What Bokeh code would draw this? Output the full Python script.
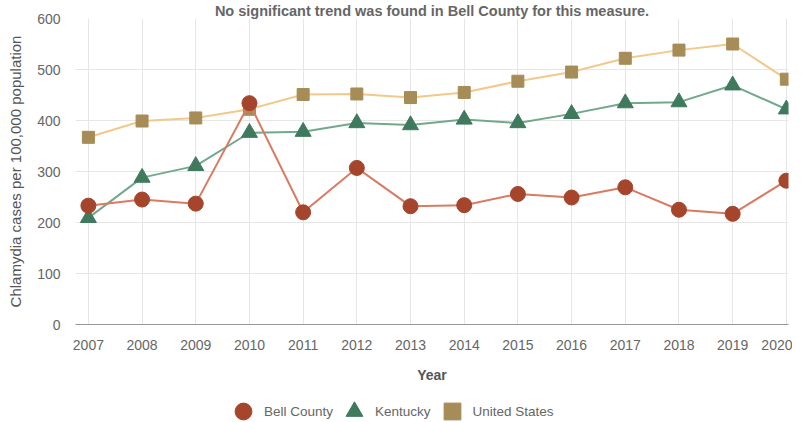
from bokeh.plotting import figure
from bokeh.layouts import column
from bokeh.models import Range1d, FixedTicker, Legend, LegendItem, ColumnDataSource
from bokeh.embed import file_html
from bokeh.resources import INLINE

years = [2007, 2008, 2009, 2010, 2011, 2012, 2013, 2014, 2015, 2016, 2017, 2018, 2019, 2020]
bell_county = [233, 245, 237, 434, 220, 307, 232, 234, 256, 249, 269, 225, 217, 282]
kentucky = [209, 288, 311, 376, 378, 395, 391, 402, 395, 413, 434, 436, 469, 422]
united_states = [367, 399, 405, 422, 451, 452, 445, 455, 477, 495, 522, 538, 550, 481]
y_ticks = [0, 100, 200, 300, 400, 500, 600]

FONT = "Liberation Sans"
TXT = "#666666"

p = figure(frame_width=713, frame_height=306, min_border_left=75, min_border_right=4,
           min_border_top=0, min_border_bottom=0,
           output_backend="svg", toolbar_location=None,
           x_range=Range1d(2006.76, 2020.04), y_range=Range1d(0, 600),
           title="No significant trend was found in Bell County for this measure.")
p.outline_line_color = None
p.background_fill_color = "white"
p.border_fill_color = "white"
p.title.text_font = FONT
p.title.text_font_size = "14.5px"
p.title.text_font_style = "bold"
p.title.text_color = TXT
p.title.align = "center"
p.title.offset = -42
p.title.standoff = 0

src = ColumnDataSource(dict(x=years, bell=bell_county, ky=kentucky, us=united_states))

series = [
    ("us", "United States", "#f2c98a", "#a68c57", "square", 12),
    ("ky", "Kentucky", "#72a98d", "#3f7a5e", "triangle", 16),
    ("bell", "Bell County", "#d97b62", "#a5452c", "circle", 15),
]

# legend strip (its own figure; data lie outside its y range, only the legend shows)
lf = figure(width=792, height=36, min_border=0, output_backend="svg", toolbar_location=None,
            x_axis_location=None, y_axis_location=None,
            x_range=Range1d(2006.76, 2020.04), y_range=Range1d(-2, -1))
lf.outline_line_color = None
lf.xgrid.visible = False
lf.ygrid.visible = False
lf.border_fill_color = "white"

items = {}
for col, name, lc, mc, marker, size in series:
    p.line("x", col, source=src, line_color=lc, line_width=2)
    p.scatter("x", col, source=src, marker=marker, size=size,
              fill_color=mc, line_color=mc)
    items[name] = lf.scatter("x", col, source=src, marker=marker, size=size,
                             fill_color=mc, line_color=mc)

legend = Legend(items=[LegendItem(label=n, renderers=[items[n]]) for n in ["Bell County", "Kentucky", "United States"]],
                orientation="horizontal", location=(147, -11),
                glyph_width=42, glyph_height=42, label_standoff=0, spacing=0,
                padding=0, margin=0, border_line_alpha=0, background_fill_alpha=0,
                label_text_font=FONT, label_text_font_size="13.5px", label_text_color=TXT)
lf.add_layout(legend, "center")

# axes
p.xaxis.ticker = FixedTicker(ticks=years)
p.yaxis.ticker = FixedTicker(ticks=y_ticks)
for ax in (p.xaxis[0], p.yaxis[0]):
    ax.major_tick_line_color = None
    ax.minor_tick_line_color = None
    ax.major_tick_out = 0
    ax.major_tick_in = 0
    ax.minor_tick_out = 0
    ax.major_label_text_font = FONT
    ax.major_label_text_font_size = "14px"
    ax.major_label_text_color = TXT
    ax.axis_label_text_font = FONT
    ax.axis_label_text_color = "#555555"
p.xaxis.axis_line_color = "#999999"
p.yaxis.axis_line_color = None
p.xaxis.major_label_standoff = 15
p.yaxis.major_label_standoff = 15
p.xaxis.axis_label = "Year"
p.xaxis.axis_label_text_font_size = "14px"
p.xaxis.axis_label_text_font_style = "bold"
p.xaxis.axis_label_standoff = 14
p.yaxis.axis_label = "Chlamydia cases per 100,000 population"
p.yaxis.axis_label_text_font_size = "15px"
p.yaxis.axis_label_text_font_style = "normal"
p.yaxis.axis_label_standoff = 10
p.xgrid.grid_line_color = "#e6e6e6"
p.ygrid.grid_line_color = "#e6e6e6"

layout = column(p, lf, spacing=0)

open("out.html", "w").write(file_html(layout, INLINE))
